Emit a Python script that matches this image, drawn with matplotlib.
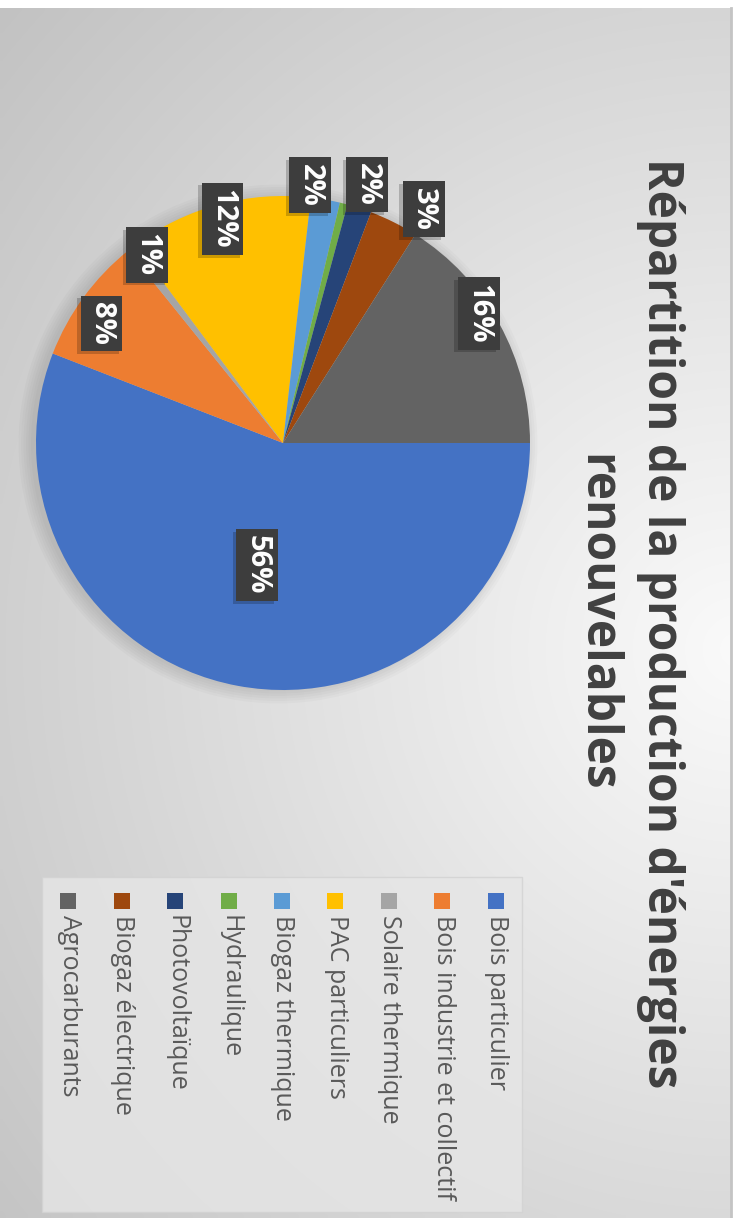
import numpy as np
import matplotlib
matplotlib.use("Agg")
import matplotlib.pyplot as plt
import matplotlib.patches as patches
import matplotlib.patheffects as pe

# data (percent of renewable production)
categories = ["Bois particulier", "Bois industrie et collectif", "Solaire thermique",
              "PAC particuliers", "Biogaz thermique", "Hydraulique", "Photovoltaïque",
              "Biogaz électrique", "Agrocarburants"]
values = [55.9, 8.3, 0.6, 12.0, 1.9, 0.5, 1.6, 3.2, 16.0]
labels = ["56%", "8%", "1%", "12%", "2%", "", "2%", "3%", "16%"]
colors = ["#4472C4", "#ED7D31", "#A5A5A5", "#FFC000", "#5B9BD5",
          "#70AD47", "#264478", "#9E480E", "#636363"]
title = "Répartition de la production d'énergies\nrenouvelables"

# where each data label sits: fraction of the radius, and turn from the slice middle (deg)
label_r = [0.505, 0.88, 0.94, 0.94, 1.05, 1.0, 1.1, 1.105, 0.95]
label_da = [1.4, -2.8, 2.0, 0.0, -3.9, 0.0, 0.0, 4.4, -4.7]

W, H = 739, 1218
fig = plt.figure(figsize=(W / 100, H / 100), dpi=100)
fig.patch.set_facecolor("white")
ax = fig.add_axes([0, 0, 1, 1])

# gradient background (chart is shown turned a quarter turn clockwise)
gx, gy = np.meshgrid(np.linspace(0, 731, 150), np.linspace(8, H, 250))
dist = np.hypot(gx - 740, gy - 650)
grey = np.clip(250 - 0.057 * dist, 190, 250) / 255
ax.imshow(np.dstack([grey, grey, grey]), extent=(0, 731, H, 8), origin="upper",
          interpolation="bilinear", zorder=0)
ax.plot([731, 731], [8, H], color="#c4c4c4", lw=2, zorder=1)

cx, cy, R = 283, 443, 247

# soft shadow under the pie (falls to the left once turned)
for k in range(6):
    ax.add_patch(patches.Circle((cx - 5, cy + 1), R + k * 2.5, color="black",
                                alpha=0.018, lw=0, zorder=1))

wedges, _ = ax.pie(values, colors=colors, startangle=0, counterclock=True,
                   center=(cx, cy), radius=R, wedgeprops=dict(linewidth=0))
for w in wedges:
    w.set_zorder(2)

for w, lab, f, da in zip(wedges, labels, label_r, label_da):
    if not lab:
        continue
    mid = np.deg2rad((w.theta1 + w.theta2) / 2 + da)
    t = ax.text(cx + f * R * np.cos(mid), cy + f * R * np.sin(mid), lab, rotation=-90,
                ha="center", va="center", color="white", fontsize=21, fontweight="bold",
                family="Open Sans", zorder=5,
                bbox=dict(boxstyle="square,pad=0.22", fc="#3d3d3d", ec="none"))
    t.get_bbox_patch().set_path_effects(
        [pe.SimplePatchShadow(offset=(-2.5, -2), shadow_rgbFace="black", alpha=0.2),
         pe.Normal()])

# title
ax.text(628, 623, title, rotation=-90, ha="center", va="center", multialignment="center",
        fontsize=34.5, fontweight="bold", family="Open Sans", color="#404040",
        linespacing=1.42, zorder=5)

# legend, drawn by hand so it can be turned with the chart
ax.add_patch(patches.Rectangle((42, 877), 480, 335, fc="#e6e6e6", ec="#d2d2d2",
                               lw=1, alpha=0.8, zorder=3))
for i, (name, col) in enumerate(zip(categories, colors)):
    x = 495.5 - i * 53.4
    ax.add_patch(patches.Rectangle((x - 8, 893), 16, 16, fc=col, ec="none", zorder=4))
    ax.text(x + 1, 915, name, rotation=-90, ha="center", va="top", fontsize=18,
            family="Open Sans", color="#595959", zorder=5)

ax.set_xlim(0, W)
ax.set_ylim(H, 0)
ax.set_aspect("equal")
ax.axis("off")
fig.savefig("out.png", dpi=100)
